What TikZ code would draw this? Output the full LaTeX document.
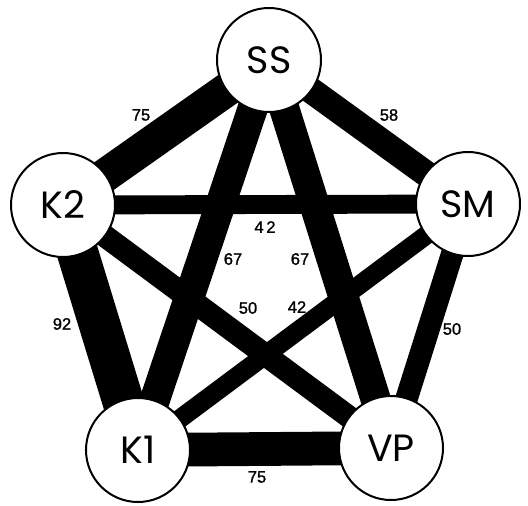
\documentclass[tikz,border=0pt]{standalone}
\usepackage{fontspec}
\setmainfont{Poppins}
\newfontfamily\numfont[FakeBold=1.2]{Liberation Sans}
\begin{document}
\begin{tikzpicture}[x=1pt,y=-1pt,
  vtx/.style={circle,draw=black,fill=white,line width=2pt,minimum size=104pt,inner sep=0pt,font=\fontsize{38}{40}\selectfont},
  tie/.style={draw=black,line cap=butt},
  wt/.style={font=\numfont\fontsize{16.5}{18}\selectfont,inner sep=0pt}]
\useasboundingbox (0,0) rectangle (528,506);
\coordinate (pSS) at (269,60);
\coordinate (pK2) at (63,205);
\coordinate (pSM) at (468,204);
\coordinate (pK1) at (138,450);
\coordinate (pVP) at (391,448);
% edges (width ~ 0.45 x value)
\draw[tie,line width=33.75pt] (pK2) -- (pSS);
\draw[tie,line width=26.1pt] (pSS) -- (pSM);
\draw[tie,line width=18.9pt] (pK2) -- (pSM);
\draw[tie,line width=30.15pt] (pSS) -- (pK1);
\draw[tie,line width=30.15pt] (pSS) -- (pVP);
\draw[tie,line width=22.5pt] (pK2) -- (pVP);
\draw[tie,line width=18.9pt] (pSM) -- (pK1);
\draw[tie,line width=41.4pt] (pK2) -- (pK1);
\draw[tie,line width=22.5pt] (pSM) -- (pVP);
\draw[tie,line width=33.75pt] (pK1) -- (pVP);
% nodes
\node[vtx] (SS) at (pSS) {SS};
\node[vtx] (K2) at (pK2) {K2};
\node[vtx] (SM) at (pSM) {SM};
\node[vtx] (K1) at (pK1) {K1};
\node[vtx] (VP) at (pVP) {VP};
% weights
\node[wt] (w1) at (141,115) {75};
\node[wt] (w2) at (389,115) {58};
\node[wt] (w3) at (265,227) {4\,2};
\node[wt] (w4) at (233,259) {67};
\node[wt] (w5) at (300,259) {67};
\node[wt] (w6) at (248,308) {50};
\node[wt] (w7) at (297,307) {42};
\node[wt] (w8) at (62,324) {92};
\node[wt] (w9) at (452,329) {50};
\node[wt] (w10) at (257,477) {75};
\end{tikzpicture}
\end{document}
